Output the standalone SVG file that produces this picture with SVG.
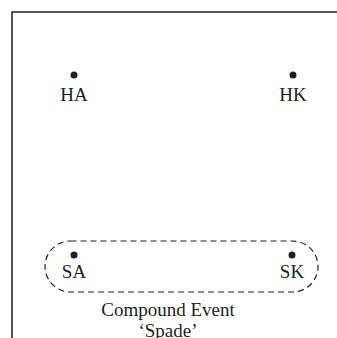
<svg xmlns="http://www.w3.org/2000/svg" width="337" height="338" viewBox="0 0 337 338">
<style>
text{font-family:"Liberation Serif","Times New Roman",serif;font-size:19px;fill:#231f20;text-anchor:middle}
.dot{fill:#231f20}
.frame{fill:none;stroke:#231f20;stroke-width:1.5}
.set{fill:none;stroke:#231f20;stroke-width:1.2;stroke-dasharray:6 4}
</style>
<rect width="337" height="338" fill="#fff"/>
<path class="frame" d="M12 338V12H337"/>
<g id="HA"><circle class="dot" cx="74" cy="75" r="3.5"/><text x="74" y="101">HA</text></g>
<g id="HK"><circle class="dot" cx="293" cy="75" r="3.5"/><text x="293" y="101">HK</text></g>
<g id="SA"><circle class="dot" cx="74" cy="255" r="3.5"/><text x="74" y="278">SA</text></g>
<g id="SK"><circle class="dot" cx="292" cy="255" r="3.5"/><text x="292" y="278">SK</text></g>
<g id="spade"><rect class="set" x="45" y="241" width="273" height="51" rx="25.5"/><text x="168" y="316">Compound Event</text><text x="168" y="337">‘Spade’</text></g>
</svg>
